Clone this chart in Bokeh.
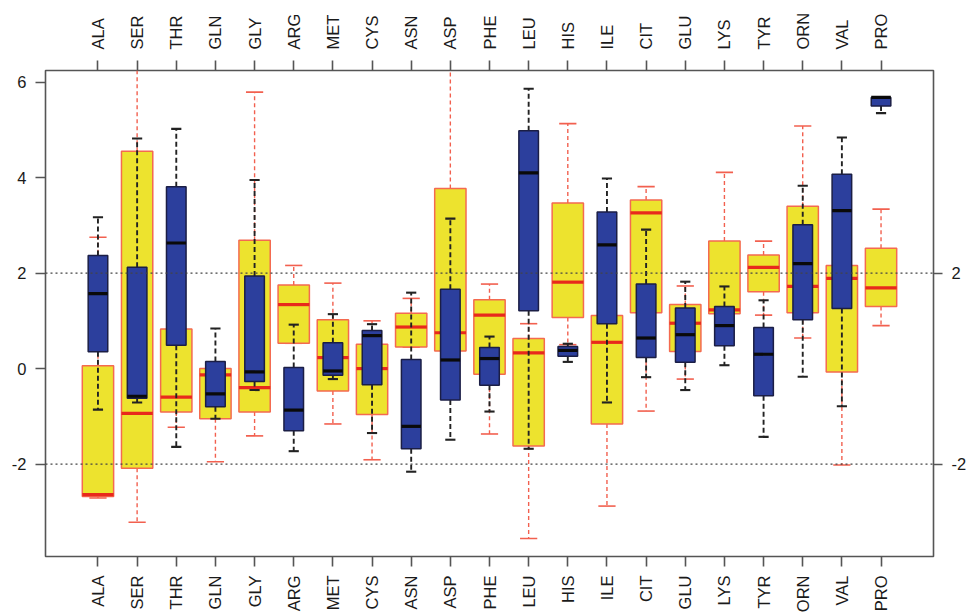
import math
from bokeh.plotting import figure
from bokeh.models import Range1d, LinearAxis, FixedTicker, Span
from bokeh.embed import file_html
from bokeh.resources import INLINE

# ---------------- data ----------------
amino = ["ALA", "SER", "THR", "GLN", "GLY", "ARG", "MET", "CYS", "ASN", "ASP", "PHE",
         "LEU", "HIS", "ILE", "CIT", "GLU", "LYS", "TYR", "ORN", "VAL", "PRO"]

# yellow group (red outlines)
y_low = [-2.71, -3.22, -1.23, -1.95, -1.41, 0.53, -1.16, -1.91, 0.45, -0.20, -1.37,
         -3.56, 0.50, -2.88, -0.89, -0.22, 1.15, 1.12, 0.64, -2.02, 0.90]
y_q1 = [-2.68, -2.09, -0.91, -1.05, -0.91, 0.53, -0.47, -0.96, 0.45, 0.37, -0.12,
        -1.62, 1.07, -1.16, 1.17, 0.36, 1.15, 1.61, 1.17, -0.07, 1.30]
y_med = [-2.64, -0.94, -0.60, -0.13, -0.40, 1.34, 0.23, 0.00, 0.87, 0.75, 1.12,
         0.33, 1.81, 0.55, 3.26, 0.95, 1.23, 2.12, 1.72, 1.89, 1.69]
y_q3 = [0.06, 4.55, 0.83, 0.00, 2.69, 1.75, 1.02, 0.51, 1.16, 3.77, 1.44,
        0.63, 3.47, 1.11, 3.53, 1.34, 2.67, 2.38, 3.40, 2.16, 2.52]
y_high = [2.75, 6.60, 1.50, 0.00, 5.79, 2.16, 1.79, 1.00, 1.47, 6.60, 1.77,
          0.94, 5.13, 2.00, 3.81, 1.73, 4.11, 2.67, 5.08, 3.00, 3.34]

# blue group (dark outlines)
b_low = [-0.86, -0.71, -1.64, -1.05, -0.45, -1.73, -0.22, -1.35, -2.16, -1.49, -0.90,
         -1.68, 0.14, -0.71, -0.18, -0.45, 0.07, -1.43, -0.17, -0.79, 5.35]
b_q1 = [0.35, -0.62, 0.49, -0.80, -0.27, -1.30, -0.14, -0.34, -1.68, -0.66, -0.35,
        1.21, 0.26, 0.94, 0.23, 0.13, 0.48, -0.57, 1.02, 1.26, 5.50]
b_med = [1.57, -0.58, 2.63, -0.53, -0.07, -0.87, -0.05, 0.69, -1.21, 0.18, 0.21,
         4.10, 0.38, 2.59, 0.64, 0.71, 0.90, 0.30, 2.20, 3.31, 5.68]
b_q3 = [2.37, 2.12, 3.81, 0.15, 1.94, 0.02, 0.54, 0.80, 0.19, 1.66, 0.44,
        4.98, 0.46, 3.28, 1.77, 1.27, 1.30, 0.86, 3.01, 4.07, 5.68]
b_high = [3.17, 4.82, 5.02, 0.84, 3.95, 0.92, 1.14, 0.93, 1.59, 3.14, 0.67,
          5.86, 0.52, 3.98, 2.91, 1.82, 1.72, 1.43, 3.83, 4.84, 5.68]

y_ticks = [-2, 0, 2, 4, 6]
right_ticks = [-2, 2]
ref_lines = [-2, 2]

# ---------------- styles ----------------
FONT = "Liberation Sans"
YEL_FILL = "#EDE32E"
YEL_LINE = "#F46A50"
YEL_MED = "#E8291C"
YEL_WHISK = "#F2604F"
BLU_FILL = "#2C3F9D"
BLU_LINE = "#1B1E45"
BLU_MED = "#0A0A0A"
BLU_WHISK = "#222222"
AX = "#555555"

pos = list(range(1, len(amino) + 1))

p = figure(width=969, height=615,
           x_range=Range1d(-0.34, 22.34), y_range=Range1d(-3.936, 6.243),
           output_backend="svg", toolbar_location=None,
           x_axis_location=None, y_axis_location=None,
           min_border_left=45, min_border_right=33,
           min_border_top=70, min_border_bottom=56)
p.grid.grid_line_color = None
p.outline_line_color = AX
p.outline_line_width = 1.6
p.background_fill_color = "white"
p.border_fill_color = "white"


def draw_group(low, q1, med, q3, high, half, cap_half, fill, line, medc, whisk,
               wwidth, wdash):
    xl = [x - half for x in pos]
    xr = [x + half for x in pos]
    cl = [x - cap_half for x in pos]
    cr = [x + cap_half for x in pos]
    # whiskers
    p.segment(x0=pos, y0=q3, x1=pos, y1=high, line_color=whisk,
              line_width=wwidth, line_dash=wdash)
    p.segment(x0=pos, y0=q1, x1=pos, y1=low, line_color=whisk,
              line_width=wwidth, line_dash=wdash)
    # caps
    p.segment(x0=cl, y0=high, x1=cr, y1=high, line_color=whisk, line_width=wwidth + 0.2)
    p.segment(x0=cl, y0=low, x1=cr, y1=low, line_color=whisk, line_width=wwidth + 0.2)
    # boxes
    p.quad(left=xl, right=xr, bottom=q1, top=q3, fill_color=fill,
           line_color=line, line_width=1.5)
    # medians
    p.segment(x0=xl, y0=med, x1=xr, y1=med, line_color=medc, line_width=3.2)


draw_group(y_low, y_q1, y_med, y_q3, y_high, 0.40, 0.22,
           YEL_FILL, YEL_LINE, YEL_MED, YEL_WHISK, 1.4, "4 3")
draw_group(b_low, b_q1, b_med, b_q3, b_high, 0.25, 0.13,
           BLU_FILL, BLU_LINE, BLU_MED, BLU_WHISK, 1.9, "5 3")

for loc in ref_lines:
    p.add_layout(Span(location=loc, dimension="width", line_color="#444444",
                      line_width=1.3, line_dash="2 3"))


def style_axis(ax, tick_out, standoff):
    ax.axis_line_color = None
    ax.major_tick_line_color = AX
    ax.major_tick_line_width = 1.6
    ax.major_tick_out = tick_out
    ax.major_tick_in = 0
    ax.minor_tick_line_color = None
    ax.major_label_text_font = FONT
    ax.major_label_text_font_size = "16.5px"
    ax.major_label_text_color = "#1A1A1A"
    ax.major_label_standoff = standoff


name_map = {i + 1: n for i, n in enumerate(amino)}
num_map = {t: str(t) for t in y_ticks}

top = LinearAxis(ticker=FixedTicker(ticks=pos), major_label_overrides=name_map,
                 major_label_orientation=math.pi / 2)
style_axis(top, 10, 11)
p.add_layout(top, "above")

bottom = LinearAxis(ticker=FixedTicker(ticks=pos), major_label_overrides=name_map,
                    major_label_orientation=math.pi / 2)
style_axis(bottom, 10, 9)
p.add_layout(bottom, "below")

left = LinearAxis(ticker=FixedTicker(ticks=y_ticks), major_label_overrides=num_map)
style_axis(left, 10, 9)
p.add_layout(left, "left")

right = LinearAxis(ticker=FixedTicker(ticks=right_ticks),
                   major_label_overrides={t: str(t) for t in right_ticks})
style_axis(right, 9, 9)
p.add_layout(right, "right")

open("out.html", "w").write(file_html(p, INLINE))
